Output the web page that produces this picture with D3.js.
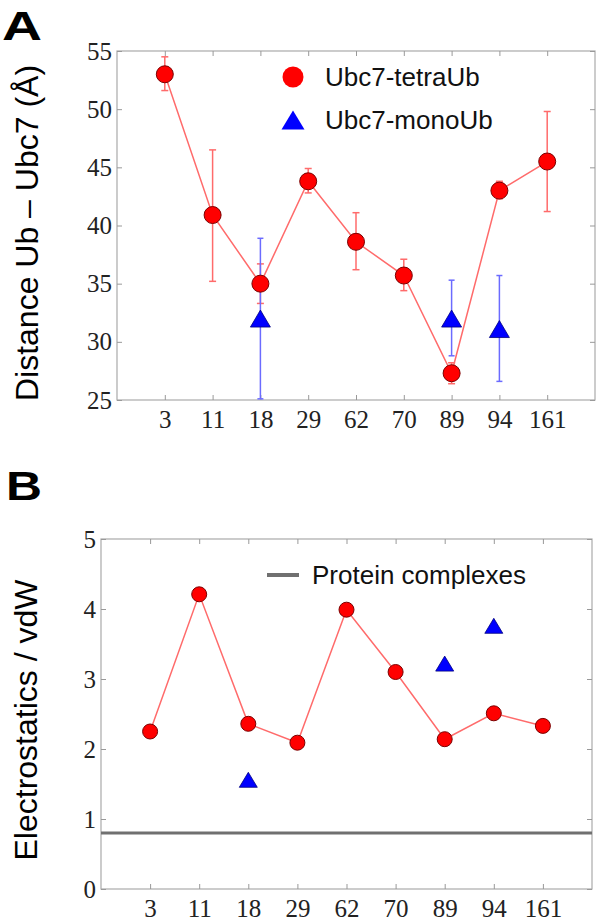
<script src="https://d3js.org/d3.v7.min.js"></script>
<style>
  body { margin: 0; background: #fff; }
</style>
<svg id="fig"></svg>
<script>
// residue positions on the x axis
const residues = ["3", "11", "18", "29", "62", "70", "89", "94", "161"];

// panel A: distance Ub - Ubc7 (Å), tetraUb with error range
const tetraDist = [53.0, 40.9, 35.0, 43.8, 38.6, 35.7, 27.3, 43.0, 45.5];
const tetraLo   = [51.6, 35.2, 33.3, 42.8, 36.2, 34.4, 26.4, 42.3, 41.2];
const tetraHi   = [54.5, 46.5, 36.7, 44.9, 41.1, 37.1, 28.2, 43.8, 49.8];

// monoUb only measured at three residues
const monoResidues = ["18", "89", "94"];
const monoDist = [32.0, 32.0, 31.1];
const monoLo   = [25.1, 28.8, 26.6];
const monoHi   = [38.9, 35.3, 35.7];

// panel B: electrostatics / vdW
const tetraRatio = [2.25, 4.21, 2.36, 2.09, 3.99, 3.10, 2.14, 2.51, 2.33];
const monoRatio  = [1.56, 3.22, 3.76];
const complexRef = 0.8;

const yTicksA = [25, 30, 35, 40, 45, 50, 55];
const yTicksB = [0, 1, 2, 3, 4, 5];

const W = 600, H = 924;
const sans = "Liberation Sans, Arial, sans-serif";
const serif = "Liberation Serif, Times New Roman, serif";
const svg = d3.select("#fig").attr("width", W).attr("height", H);

const pos = r => residues.indexOf(r) + 1;
const tri = (w, h) => `M0,${-h / 2}L${w / 2},${h / 2}L${-w / 2},${h / 2}Z`;

function styleAxis(a) {
  a.select(".domain").remove();
  a.selectAll(".tick line").attr("stroke", "#999");
  a.selectAll(".tick text")
    .style("font-family", serif).style("font-size", "25px").attr("fill", "#222");
}

function frame(g, x, y, yTicks, y0, y1) {
  const x0 = x.range()[0], x1 = x.range()[1];
  g.append("rect")
    .attr("x", x0).attr("y", y1)
    .attr("width", x1 - x0).attr("height", y0 - y1)
    .attr("fill", "none").attr("stroke", "#aaa").attr("stroke-width", 1.2);

  g.append("g").attr("transform", `translate(0,${y0})`)
    .call(d3.axisBottom(x).tickValues(residues.map(pos)).tickFormat(d => residues[d - 1])
      .tickSize(-5).tickPadding(10))
    .call(styleAxis);
  g.append("g").attr("transform", `translate(0,${y1})`)
    .call(d3.axisTop(x).tickValues(residues.map(pos)).tickFormat("").tickSize(-5))
    .call(styleAxis);
  g.append("g").attr("transform", `translate(${x0},0)`)
    .call(d3.axisLeft(y).tickValues(yTicks).tickFormat(d3.format("d")).tickSize(-5).tickPadding(5))
    .call(styleAxis);
  g.append("g").attr("transform", `translate(${x1},0)`)
    .call(d3.axisRight(y).tickValues(yTicks).tickFormat("").tickSize(-5))
    .call(styleAxis);
}

function errBars(g, xs, ys, lo, hi, color, cap) {
  const e = g.append("g").attr("stroke", color).attr("stroke-width", 1.5);
  xs.forEach((xv, i) => {
    e.append("line").attr("x1", xv).attr("x2", xv).attr("y1", ys(lo[i])).attr("y2", ys(hi[i]));
    e.append("line").attr("x1", xv - cap).attr("x2", xv + cap).attr("y1", ys(lo[i])).attr("y2", ys(lo[i]));
    e.append("line").attr("x1", xv - cap).attr("x2", xv + cap).attr("y1", ys(hi[i])).attr("y2", ys(hi[i]));
  });
}

function legendText(g, x, y, s) {
  g.append("text").attr("x", x).attr("y", y).text(s)
    .attr("font-family", sans).attr("font-size", 26).attr("fill", "#111");
}

// ---------- Panel A ----------
const xA = d3.scaleLinear().domain([0, 10]).range([117, 595]);
const yA = d3.scaleLinear().domain([25, 55]).range([400, 51]);
const gA = svg.append("g");
frame(gA, xA, yA, yTicksA, 400, 51);

gA.append("path").datum(tetraDist)
  .attr("fill", "none").attr("stroke", "#ff6b6b").attr("stroke-width", 1.5)
  .attr("d", d3.line().x((d, i) => xA(i + 1)).y(d => yA(d)));

errBars(gA, residues.map(r => xA(pos(r))), yA, tetraLo, tetraHi, "#ff6b6b", 3.5);
errBars(gA, monoResidues.map(r => xA(pos(r))), yA, monoLo, monoHi, "#6b6bff", 3);

gA.selectAll("circle.pt").data(tetraDist).join("circle")
  .attr("cx", (d, i) => xA(i + 1)).attr("cy", d => yA(d)).attr("r", 8.5)
  .attr("fill", "#ff0000").attr("stroke", "#7a0000").attr("stroke-width", 1);

gA.selectAll("path.tri").data(monoDist).join("path")
  .attr("transform", (d, i) => `translate(${xA(pos(monoResidues[i]))},${yA(d)})`)
  .attr("d", tri(20, 17))
  .attr("fill", "#0000ff").attr("stroke", "#000080").attr("stroke-width", 0.8);

// legend A
gA.append("circle").attr("cx", 293).attr("cy", 77).attr("r", 10.5).attr("fill", "#ff0000");
gA.append("path").attr("transform", "translate(293,120)").attr("d", tri(23, 19)).attr("fill", "#0000ff");
legendText(gA, 325, 86, "Ubc7-tetraUb");
legendText(gA, 325, 129, "Ubc7-monoUb");

// ---------- Panel B ----------
const xB = d3.scaleLinear().domain([0, 10]).range([101, 592]);
const yB = d3.scaleLinear().domain([0, 5]).range([889, 539]);
const gB = svg.append("g");
frame(gB, xB, yB, yTicksB, 889, 539);

gB.append("line")
  .attr("x1", xB(0)).attr("x2", xB(10))
  .attr("y1", yB(complexRef)).attr("y2", yB(complexRef))
  .attr("stroke", "#707070").attr("stroke-width", 3);

gB.append("path").datum(tetraRatio)
  .attr("fill", "none").attr("stroke", "#ff6b6b").attr("stroke-width", 1.5)
  .attr("d", d3.line().x((d, i) => xB(i + 1)).y(d => yB(d)));

gB.selectAll("circle.pt").data(tetraRatio).join("circle")
  .attr("cx", (d, i) => xB(i + 1)).attr("cy", d => yB(d)).attr("r", 7.5)
  .attr("fill", "#ff0000").attr("stroke", "#7a0000").attr("stroke-width", 1);

gB.selectAll("path.tri").data(monoRatio).join("path")
  .attr("transform", (d, i) => `translate(${xB(pos(monoResidues[i]))},${yB(d)})`)
  .attr("d", tri(18, 15))
  .attr("fill", "#0000ff").attr("stroke", "#000080").attr("stroke-width", 0.8);

// legend B
gB.append("line").attr("x1", 267).attr("x2", 299).attr("y1", 575).attr("y2", 575)
  .attr("stroke", "#707070").attr("stroke-width", 4);
legendText(gB, 312, 584, "Protein complexes");

// axis titles
svg.append("text")
  .attr("transform", "translate(38,233) rotate(-90)")
  .attr("text-anchor", "middle")
  .attr("font-family", sans).attr("font-size", 32)
  .text("Distance Ub \u2013 Ubc7 (\u00c5)");
svg.append("text")
  .attr("transform", "translate(37,720) rotate(-90)")
  .attr("text-anchor", "middle")
  .attr("font-family", sans).attr("font-size", 32)
  .text("Electrostatics / vdW");

// panel letters
svg.append("text").attr("x", 2).attr("y", 40).text("A")
  .attr("font-family", sans).attr("font-weight", "bold")
  .attr("font-size", 40).attr("textLength", 40).attr("lengthAdjust", "spacingAndGlyphs");
svg.append("text").attr("x", 6).attr("y", 500).text("B")
  .attr("font-family", sans).attr("font-weight", "bold")
  .attr("font-size", 40).attr("textLength", 36).attr("lengthAdjust", "spacingAndGlyphs");
</script>
